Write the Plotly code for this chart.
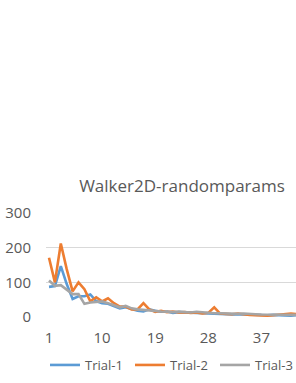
import plotly.graph_objects as go

categories = list(range(1, 44))
trial_1 = [87, 89, 147, 95, 52, 60, 60, 65, 46, 40, 38, 32, 25, 28, 22, 18, 16, 22, 18, 15,
           16, 12, 14, 13, 12, 11, 10, 9, 8, 9, 8, 7, 8, 7, 6, 7, 6, 5, 6, 5, 5, 4, 5]
trial_2 = [171, 100, 212, 138, 74, 100, 80, 45, 57, 45, 54, 40, 30, 30, 22, 22, 40, 22, 15, 18,
           14, 16, 13, 14, 12, 13, 10, 12, 28, 10, 9, 8, 10, 7, 6, 5, 4, 4, 5, 6, 7, 10, 8]
trial_3 = [105, 90, 92, 78, 66, 66, 38, 42, 44, 45, 40, 35, 28, 32, 25, 22, 20, 18, 17, 16,
           15, 14, 16, 14, 13, 15, 13, 12, 11, 11, 10, 10, 9, 10, 8, 8, 7, 7, 7, 6, 6, 6, 6]
x_tickvals = [1, 10, 19, 28, 37]
y_tickvals = [0, 100, 200, 300]
title_text = "Walker2D-randomparams"

W, H = 296, 383
text_color = "#595959"
font_family = "Open Sans, Noto Sans, sans-serif"
plot_l, plot_r, plot_t, plot_b = 46, 296, 213, 317

fig = go.Figure()
for name, vals, color in [("Trial-1", trial_1, "#5B9BD5"),
                          ("Trial-2", trial_2, "#ED7D31"),
                          ("Trial-3", trial_3, "#A5A5A5")]:
    fig.add_trace(go.Scatter(x=categories, y=vals, mode="lines", name=name,
                             line=dict(color=color, width=2.6)))

fig.update_layout(
    width=W, height=H,
    margin=dict(l=plot_l, r=W - plot_r, t=plot_t, b=H - plot_b, autoexpand=False),
    paper_bgcolor="white", plot_bgcolor="white",
    font=dict(family=font_family, color=text_color, size=13),
    title=dict(text=title_text, x=182 / W, xanchor="center", xref="container",
               y=1 - 186 / H, yanchor="middle", yref="container",
               font=dict(size=17, color=text_color, family=font_family)),
    showlegend=True,
    legend=dict(orientation="h", x=-0.004, xanchor="left",
                xref="paper", y=-(365 - plot_b) / (plot_b - plot_t), yanchor="middle",
                font=dict(size=13, color=text_color), itemwidth=30,
                entrywidth=40, entrywidthmode="pixels",
                traceorder="normal", tracegroupgap=0),
    xaxis=dict(range=[0.49, 42.86], tickmode="array", tickvals=x_tickvals,
               ticktext=[str(v) for v in x_tickvals], showgrid=False, zeroline=False,
               showline=False, ticks="outside", ticklen=7, tickcolor="rgba(0,0,0,0)",
               tickangle=0, tickfont=dict(size=15, color=text_color)),
    yaxis=dict(range=[0, 300], tickmode="array", tickvals=y_tickvals,
               showgrid=True, gridcolor="#D9D9D9", gridwidth=1, zeroline=False,
               showline=False, ticks="outside", ticklen=11, tickcolor="rgba(0,0,0,0)",
               tickfont=dict(size=15, color=text_color)),
)

fig.write_html("out.html", config={"displayModeBar": False},
               post_script="document.body.style.margin='0';document.body.style.overflow='hidden';")
